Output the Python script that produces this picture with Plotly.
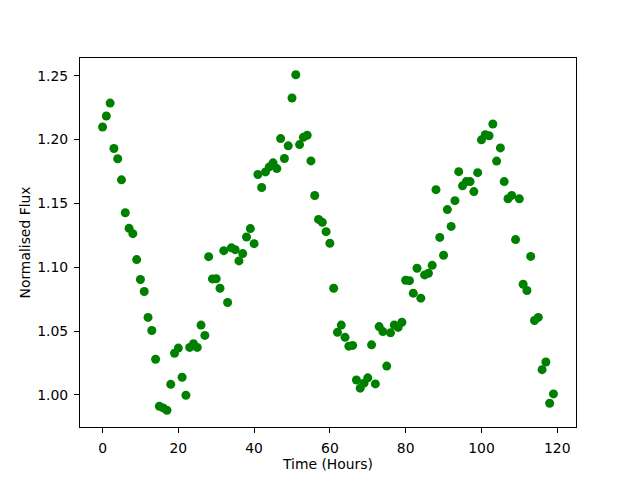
import plotly.graph_objects as go

hours = list(range(120))
flux = [
    1.2099, 1.2185, 1.2286, 1.1930, 1.1850, 1.1685, 1.1427, 1.1305, 1.1263, 1.1060,
    1.0904, 1.0810, 1.0607, 1.0505, 1.0279, 0.9911, 0.9898, 0.9880, 1.0083, 1.0326,
    1.0367, 1.0138, 0.9997, 1.0372, 1.0401, 1.0372, 1.0547, 1.0466, 1.1083, 1.0909,
    1.0910, 1.0836, 1.1130, 1.0724, 1.1152, 1.1138, 1.1050, 1.1107, 1.1237, 1.1303,
    1.1185, 1.1727, 1.1625, 1.1747, 1.1786, 1.1818, 1.1773, 1.2008, 1.1852, 1.1951,
    1.2326, 1.2508, 1.1961, 1.2018, 1.2034, 1.1833, 1.1562, 1.1375, 1.1352, 1.1279,
    1.1188, 1.0836, 1.0490, 1.0547, 1.0451, 1.0382, 1.0388, 1.0117, 1.0053, 1.0092,
    1.0134, 1.0392, 1.0086, 1.0535, 1.0496, 1.0226, 1.0486, 1.0548, 1.0529, 1.0569,
    1.0898, 1.0895, 1.0797, 1.0992, 1.0758, 1.0940, 1.0953, 1.1015, 1.1608, 1.1234,
    1.1094, 1.1452, 1.1320, 1.1522, 1.1749, 1.1638, 1.1671, 1.1671, 1.1593, 1.1741,
    1.1998, 1.2039, 1.2030, 1.2122, 1.1832, 1.1935, 1.1671, 1.1537, 1.1563, 1.1217,
    1.1536, 1.0867, 1.0818, 1.1085, 1.0583, 1.0607, 1.0198, 1.0258, 0.9935, 1.0008,
]

x_ticks = [0, 20, 40, 60, 80, 100, 120]
y_ticks = [1.00, 1.05, 1.10, 1.15, 1.20, 1.25]

fig = go.Figure(go.Scatter(
    x=hours, y=flux, mode="markers",
    marker=dict(color="green", size=9, line=dict(width=0)),
))

xmin, xmax = min(hours), max(hours)
ymin, ymax = min(flux), max(flux)
xm = (xmax - xmin) * 0.05
ym = (ymax - ymin) * 0.05

axis_common = dict(
    showgrid=False, zeroline=False, showline=True, linecolor="black",
    linewidth=1.1, mirror=True, ticks="outside", ticklen=5, tickwidth=1.1,
    tickcolor="black", tickfont=dict(family="DejaVu Sans", size=13.9, color="black"),
    ticklabelstandoff=3, automargin=False,
)

fig.update_xaxes(
    range=[xmin - xm, xmax + xm], tickvals=x_ticks,
    title=dict(text="Time (Hours)", font=dict(family="DejaVu Sans", size=13.9, color="black"), standoff=3),
    **axis_common,
)
fig.update_yaxes(
    range=[ymin - ym, ymax + ym], tickvals=y_ticks, tickformat=".2f",
    title=dict(text="Normalised Flux", font=dict(family="DejaVu Sans", size=13.9, color="black"), standoff=3),
    **axis_common,
)

# The page body adds an 8 px margin, so the figure is sized and offset to
# place the plot area where the reference has it in the 640x480 window.
fig.update_layout(
    width=624, height=464,
    margin=dict(l=72, r=56, t=50, b=45),
    plot_bgcolor="white", paper_bgcolor="white",
    showlegend=False,
)

fig.write_html("out.html")
